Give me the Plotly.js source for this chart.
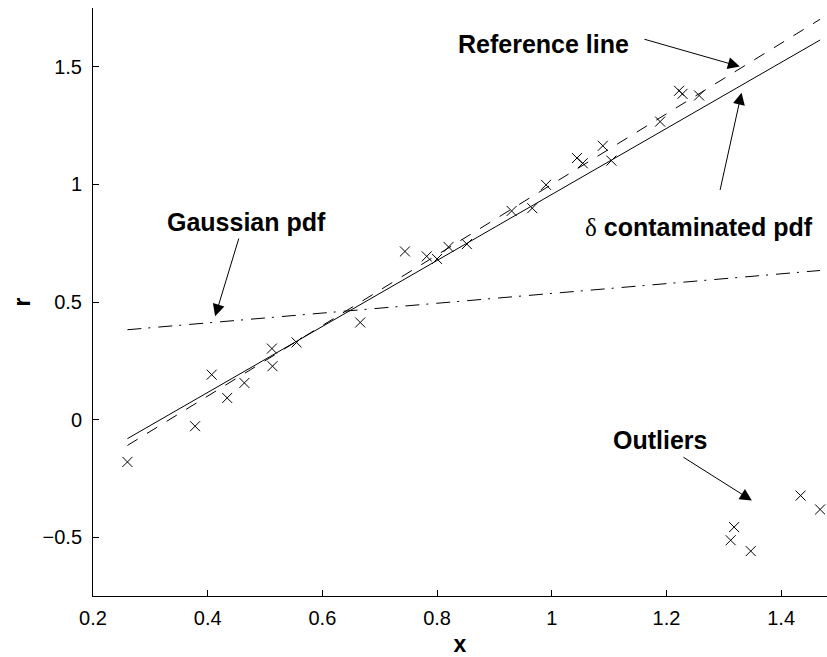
<!DOCTYPE html>
<html>
<head>
<meta charset="utf-8">
<script src="https://cdn.plot.ly/plotly-3.0.1.min.js"></script>
<style>
  html, body { margin: 0; padding: 0; background: #fff; }
  #chart { width: 827px; height: 657px; }
</style>
</head>
<body>
<div id="chart"></div>
<script>
// Observations (x, r)
const obsX = [0.260, 0.378, 0.407, 0.434, 0.464, 0.512, 0.513, 0.555, 0.666,
              0.744, 0.782, 0.800, 0.820, 0.852, 0.930, 0.966, 0.990, 1.044,
              1.054, 1.089, 1.104, 1.189, 1.222, 1.228, 1.257];
const obsR = [-0.180, -0.028, 0.191, 0.092, 0.156, 0.302, 0.227, 0.328, 0.413,
              0.715, 0.694, 0.683, 0.734, 0.746, 0.887, 0.899, 0.998, 1.112,
              1.090, 1.164, 1.101, 1.267, 1.398, 1.385, 1.378];

// Outlying observations
const outX = [1.312, 1.318, 1.347, 1.434, 1.468];
const outR = [-0.513, -0.457, -0.559, -0.323, -0.382];

// Fitted lines, given by their end points
const lineX = [0.26, 1.468];
const refR = [-0.110, 1.702];        // reference line
const deltaR = [-0.081, 1.614];      // δ contaminated pdf fit
const gaussR = [0.382, 0.634];       // Gaussian pdf fit

// Axis ticks
const xTicks = [0.2, 0.4, 0.6, 0.8, 1, 1.2, 1.4];
const xTickText = ['0.2', '0.4', '0.6', '0.8', '1', '1.2', '1.4'];
const yTicks = [-0.5, 0, 0.5, 1, 1.5];
const yTickText = ['\u22120.5', '0', '0.5', '1', '1.5'];

const FONT = 'Liberation Sans, Arial, Helvetica, sans-serif';
const markerStyle = { symbol: 'x-thin-open', size: 10, color: '#000', line: { width: 1, color: '#000' } };

const traces = [
  { x: lineX, y: refR, mode: 'lines', line: { color: '#000', width: 1, dash: '12px,11px' }, hoverinfo: 'skip' },
  { x: lineX, y: deltaR, mode: 'lines', line: { color: '#000', width: 1 }, hoverinfo: 'skip' },
  { x: lineX, y: gaussR, mode: 'lines', line: { color: '#000', width: 1, dash: '14px,7px,2px,8px' }, hoverinfo: 'skip' },
  { x: obsX, y: obsR, mode: 'markers', marker: markerStyle },
  { x: outX, y: outR, mode: 'markers', marker: markerStyle }
];

const labelFont = { family: FONT, size: 25, color: '#000', weight: 'bold' };

function label(text, x, y) {
  return { text: '<b>' + text + '</b>', x: x, y: y, xref: 'x', yref: 'y',
           showarrow: false, font: labelFont, xanchor: 'center', yanchor: 'middle' };
}
function arrow(tx, ty, hx, hy) {
  return { text: '', x: hx, y: hy, ax: tx, ay: ty, xref: 'x', yref: 'y',
           axref: 'x', ayref: 'y', showarrow: true, arrowhead: 2,
           arrowsize: 2.4, arrowwidth: 1, arrowcolor: '#000', standoff: 0, startstandoff: 0 };
}

const annotations = [
  label('Reference line', 0.986, 1.596),
  arrow(1.159, 1.619, 1.328, 1.501),
  label('<span style="font-family:\'Liberation Serif\', serif;font-weight:normal">\u03b4</span> contaminated pdf', 1.257, 0.820),
  arrow(1.293, 0.970, 1.331, 1.390),
  label('Gaussian pdf', 0.468, 0.842),
  arrow(0.455, 0.776, 0.413, 0.439),
  label('Outliers', 1.188, -0.085),
  arrow(1.227, -0.156, 1.349, -0.344)
];

const layout = {
  width: 827, height: 657,
  margin: { l: 93, r: 0, t: 8, b: 61, pad: 0 },
  paper_bgcolor: '#fff', plot_bgcolor: '#fff',
  showlegend: false,
  font: { family: FONT, size: 20, color: '#000' },
  xaxis: {
    range: [0.2, 1.48], tickvals: xTicks, ticktext: xTickText,
    ticks: 'inside', ticklen: 6, tickwidth: 1, tickcolor: '#000',
    showline: true, linecolor: '#000', linewidth: 1, mirror: false,
    showgrid: false, zeroline: false, ticklabelstandoff: 4,
    tickfont: { family: FONT, size: 20, color: '#000' },
    title: { text: '<b>x</b>', font: { family: FONT, size: 23, color: '#000' }, standoff: 8 }
  },
  yaxis: {
    range: [-0.75, 1.75], tickvals: yTicks, ticktext: yTickText,
    ticks: 'inside', ticklen: 6, tickwidth: 1, tickcolor: '#000',
    showline: true, linecolor: '#000', linewidth: 1, mirror: false,
    showgrid: false, zeroline: false, ticklabelstandoff: 6,
    tickfont: { family: FONT, size: 20, color: '#000' },
    title: { text: '<b>r</b>', font: { family: FONT, size: 23, color: '#000' }, standoff: 5 }
  },
  annotations: annotations
};

Plotly.newPlot('chart', traces, layout, { staticPlot: true, displayModeBar: false });
</script>
</body>
</html>
